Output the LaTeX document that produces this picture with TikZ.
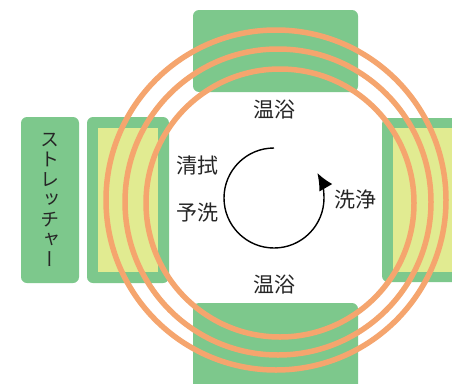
\documentclass[tikz,border=0pt]{standalone}
\usepackage{fontspec}
\usepackage{xcolor}
\usepackage{tikz}
\usetikzlibrary{
  arrows.meta,
  calc,
  positioning}

\newfontfamily\jp{Noto Sans CJK JP}
\newfontfamily\jpv[RawFeature=+vert]{Noto Sans CJK JP}

\definecolor{bathgreen}{RGB}{125,200,140}
\definecolor{bathyellow}{RGB}{225,235,145}
\definecolor{ringorange}{RGB}{245,165,110}

\tikzset{
  room/.style={fill=bathgreen,rounded corners=6pt},
  ring/.style={draw=ringorange,line width=5.5pt},
  lbl/.style={font=\jp\fontsize{21}{24}\selectfont,text=black!85,inner sep=0pt}
}

\begin{document}
\begin{tikzpicture}[x=1pt,y=-1pt]
            \useasboundingbox (0,0) rectangle (452,383);
            \fill[white] (0,0) rectangle (452,383);

            \fill[room] (21,117) rectangle (79,283);
            \fill[room] (87,117) rectangle (169,283);
            \fill[bathyellow] (98,128) rectangle (158,272);
            \fill[room] (382,118) rectangle (470,282);
            \fill[bathyellow] (393,128) rectangle (475,272);
            \fill[room] (193,10) rectangle (358,92);
            \fill[room] (193,303) rectangle (358,400);

            \draw[ring] (276,200) circle [radius=170];
            \draw[ring] (278,202) circle [radius=153];
            \draw[ring] (280,203) circle [radius=134];

            \draw[line width=1.4pt,-{Latex[length=17pt,width=15pt]}] (274,148) arc [start angle=-90,end angle=-390,radius=50];

            \node[lbl] (bathtop) at (274,110) {温浴};
            \node[lbl] (bathbot) at (274,285) {温浴};
            \node[lbl] (wipe) at (197,166) {清拭};
            \node[lbl] (prewash) at (197,213) {予洗};
            \node[lbl] (wash) at (355,200) {洗浄};
            \node[lbl,font=\jpv\fontsize{19}{20}\selectfont,align=center] (stretcher) at (50,200) {ス\\ト\\レ\\ッ\\チ\\ャ\\ー};
        \end{tikzpicture}
\end{document}
